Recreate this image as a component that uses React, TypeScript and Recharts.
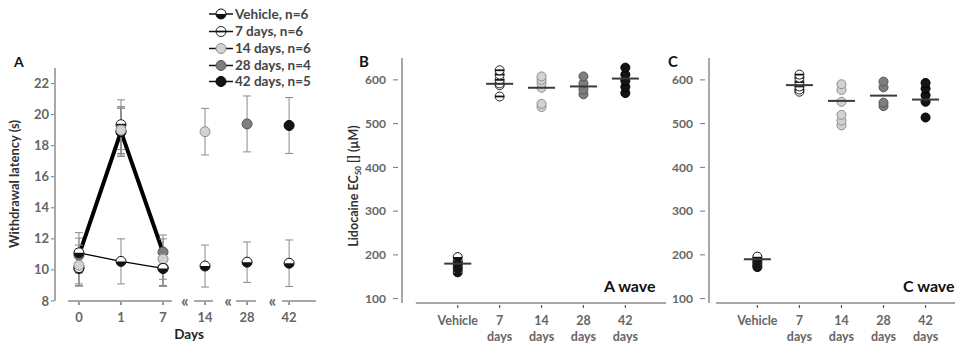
import React from 'react';
import {
  ComposedChart,
  ScatterChart,
  Scatter,
  Line,
  XAxis,
  YAxis,
  ErrorBar,
  ReferenceLine,
  ReferenceDot,
} from 'recharts';

const FONT = 'Lato, "Open Sans", "DejaVu Sans", sans-serif';

// ---------- Panel A: withdrawal latency ----------
const dayLabels = ['0', '1', '7', '14', '28', '42'];
const vehicleMean = [11.1, 10.55, 10.1, 10.25, 10.5, 10.43];
const vehicleErr = [1.3, 1.45, 1.15, 1.35, 1.3, 1.5];
const d7Mean = [10.15, 19.35, 10.15, null, null, null];
const d7Err = [1.2, 1.6, 1.2, null, null, null];
const d14Mean = [10.3, 19.0, 10.7, 18.9, null, null];
const d14Err = [1.3, 1.5, 1.3, 1.5, null, null];
const d28Mean = [10.95, 18.9, 11.15, null, 19.4, null];
const d28Err = [1.1, 1.6, 1.1, null, 1.8, null];
const d42Mean = [10.1, 18.9, 10.1, null, null, 19.3];
const d42Err = [1.0, 1.5, 1.1, null, null, 1.8];
const yTicksA = [8, 10, 12, 14, 16, 18, 20, 22];

// ---------- Panels B / C: lidocaine EC50 ----------
const catLabels = ['Vehicle', '7 days', '14 days', '28 days', '42 days'];
const bVehicle = [195, 186, 180, 174, 168, 160];
const b7 = [622, 612, 600, 592, 588, 562];
const b14 = [608, 600, 592, 582, 545, 538];
const b28 = [608, 592, 578, 567];
const b42 = [628, 612, 598, 584, 570];
const bMeans = [180, 591, 582, 585, 603];

const cVehicle = [196, 191, 186, 181, 176, 172];
const c7 = [612, 605, 595, 585, 578, 573];
const c14 = [590, 577, 550, 520, 507, 496];
const c28 = [596, 583, 548, 540];
const c42 = [593, 580, 565, 550, 514];
const cMeans = [190, 588, 552, 564, 555];
const yTicksBC = [100, 200, 300, 400, 500, 600];

const legendItems = [
  { kind: 'veh', label: 'Vehicle, n=6' },
  { kind: 'd7', label: '7 days, n=6' },
  { kind: 'd14', label: '14 days, n=6' },
  { kind: 'd28', label: '28 days, n=4' },
  { kind: 'd42', label: '42 days, n=5' },
];

type Kind = 'veh' | 'd7' | 'd14' | 'd28' | 'd42';

function Marker({ kind, cx, cy, r }: { kind: Kind; cx: number; cy: number; r: number }) {
  if (kind === 'veh') {
    return (
      <g>
        <circle cx={cx} cy={cy} r={r} fill="#fff" stroke="#111" strokeWidth={1} />
        <path d={`M${cx - r},${cy} A${r},${r} 0 0 0 ${cx + r},${cy} Z`} fill="#111" />
      </g>
    );
  }
  if (kind === 'd7') {
    return (
      <g>
        <circle cx={cx} cy={cy} r={r} fill="#fff" stroke="#222" strokeWidth={1} />
        <line x1={cx - r} x2={cx + r} y1={cy} y2={cy} stroke="#111" strokeWidth={1.8} />
      </g>
    );
  }
  const fills: Record<string, [string, string]> = {
    d14: ['#d2d2d2', '#8c8c8c'],
    d28: ['#7e7e7e', '#555'],
    d42: ['#141414', '#000'],
  };
  const [f, s] = fills[kind];
  return <circle cx={cx} cy={cy} r={r} fill={f} stroke={s} strokeWidth={1} />;
}

const dotFor = (kind: Kind, r: number) => (p: any) => {
  const k = `dot-${kind}-${p.index}`;
  if (p.cy == null || p.value == null || Number.isNaN(p.cy)) return <g key={k} />;
  return <Marker key={k} kind={kind} cx={p.cx} cy={p.cy} r={r} />;
};

const groupsA: { key: string; kind: Kind; mean: (number | null)[]; err: (number | null)[]; stroke: string; width: number }[] = [
  { key: 'd28', kind: 'd28', mean: d28Mean, err: d28Err, stroke: '#000', width: 4 },
  { key: 'd42', kind: 'd42', mean: d42Mean, err: d42Err, stroke: 'none', width: 0 },
  { key: 'd7', kind: 'd7', mean: d7Mean, err: d7Err, stroke: 'none', width: 0 },
  { key: 'd14', kind: 'd14', mean: d14Mean, err: d14Err, stroke: 'none', width: 0 },
  { key: 'veh', kind: 'veh', mean: vehicleMean, err: vehicleErr, stroke: '#000', width: 1.3 },
];

// time course before the axis break is connected; later days are single points
const tableA = dayLabels.map((d, i) => {
  const row: any = { x: i, day: d };
  groupsA.forEach((g) => {
    const k = i < 3 ? g.key : g.key + 'Late';
    row[k] = g.mean[i];
    row[k + 'Err'] = g.err[i];
  });
  return row;
});

// lower points drawn first so the upper markers sit on top (as in the figure)
const toPts = (vals: number[], idx: number) =>
  [...vals].sort((a, b) => a - b).map((v) => ({ x: idx, y: v }));
const meanPts = (vals: number[]) => vals.map((v, i) => ({ x: i, y: v }));

const tickText = { fill: '#666', fontSize: 13, fontWeight: 700, fontFamily: FONT } as const;

const YTickA = ({ x, y, payload }: any) => (
  <g>
    <line x1={x - 4} x2={x - 1} y1={y} y2={y} stroke="#777" strokeWidth={1} />
    <text x={x - 6} y={y} dy="0.35em" textAnchor="end" {...tickText}>
      {payload.value}
    </text>
  </g>
);

const XTickA = ({ x, y, payload }: any) => (
  <g>
    <line x1={x} x2={x} y1={y + 1} y2={y + 4} stroke="#555" strokeWidth={1.2} />
    <text x={x} y={y + 21} textAnchor="middle" {...tickText}>
      {dayLabels[payload.value]}
    </text>
  </g>
);

const YTickBC = ({ x, y, payload }: any) => (
  <g>
    <line x1={x - 9} x2={x - 4} y1={y} y2={y} stroke="#777" strokeWidth={1} />
    <text x={x - 16} y={y} dy="0.35em" textAnchor="end" {...tickText} fontSize={12}>
      {payload.value}
    </text>
  </g>
);

const XTickBC = ({ x, y, payload }: any) => {
  const parts = catLabels[payload.value].split(' ');
  return (
    <g>
      <line x1={x} x2={x} y1={y + 2} y2={y + 5} stroke="#555" strokeWidth={1.2} />
      <text x={x} y={y + 22} textAnchor="middle" {...tickText} fontSize={12.5}>
        {parts[0]}
      </text>
      {parts[1] && (
        <text x={x} y={y + 38} textAnchor="middle" {...tickText} fontSize={12.5}>
          {parts[1]}
        </text>
      )}
    </g>
  );
};

const MeanLine = (color: string) => (p: any) => (
  <line x1={p.cx - 13.5} x2={p.cx + 13.5} y1={p.cy} y2={p.cy} stroke={color} strokeWidth={2} />
);

function Breaks({ cx, cy }: any) {
  return (
    <text x={cx} y={cy} dy="0.35em" textAnchor="middle" fill="#666" fontSize={17} fontWeight={700} fontFamily={FONT}>
      «
    </text>
  );
}

function PanelA() {
  return (
    <ComposedChart
      width={330}
      height={350}
      data={tableA}
      margin={{ top: 68, right: 14, bottom: 19, left: 0 }}
    >
      <XAxis
        dataKey="x"
        type="number"
        domain={[-0.57, 5.64]}
        allowDataOverflow
        ticks={[0, 1, 2, 3, 4, 5]}
        interval={0}
        axisLine={false}
        tickLine={false}
        tickSize={0}
        tickMargin={0}
        tick={<XTickA />}
        height={30}
      />
      <YAxis
        type="number"
        domain={[8, 23]}
        allowDataOverflow
        ticks={yTicksA}
        interval={0}
        width={55}
        axisLine={{ stroke: '#a8a8a8', strokeWidth: 2 }}
        tickLine={false}
        tickSize={0}
        tickMargin={0}
        tick={<YTickA />}
      />
      <ReferenceLine segment={[{ x: -0.26, y: 8 }, { x: 2.21, y: 8 }]} stroke="#8a8a8a" strokeWidth={1.5} ifOverflow="visible" />
      <ReferenceLine segment={[{ x: 2.74, y: 8 }, { x: 3.19, y: 8 }]} stroke="#8a8a8a" strokeWidth={1.5} ifOverflow="visible" />
      <ReferenceLine segment={[{ x: 3.74, y: 8 }, { x: 4.21, y: 8 }]} stroke="#8a8a8a" strokeWidth={1.5} ifOverflow="visible" />
      <ReferenceLine segment={[{ x: 4.83, y: 8 }, { x: 5.64, y: 8 }]} stroke="#8a8a8a" strokeWidth={1.5} ifOverflow="visible" />
      <ReferenceDot x={2.52} y={8} r={0} ifOverflow="visible" shape={<Breaks />} />
      <ReferenceDot x={3.55} y={8} r={0} ifOverflow="visible" shape={<Breaks />} />
      <ReferenceDot x={4.6} y={8} r={0} ifOverflow="visible" shape={<Breaks />} />
      {groupsA.map((g) => (
        <Line
          key={g.key}
          dataKey={g.key}
          type="linear"
          stroke={g.stroke}
          strokeWidth={g.width}
          dot={dotFor(g.kind, 5)}
          activeDot={false}
          isAnimationActive={false}
          connectNulls={false}
        >
          <ErrorBar dataKey={g.key + 'Err'} width={4} stroke="#8a8a8a" strokeWidth={1} />
        </Line>
      ))}
      {groupsA.map((g) => (
        <Line
          key={g.key + 'Late'}
          dataKey={g.key + 'Late'}
          type="linear"
          stroke="none"
          dot={dotFor(g.kind, 5)}
          activeDot={false}
          isAnimationActive={false}
        >
          <ErrorBar dataKey={g.key + 'LateErr'} width={4} stroke="#8a8a8a" strokeWidth={1} />
        </Line>
      ))}
    </ComposedChart>
  );
}

function DotPanel({
  width,
  yAxisWidth,
  domainX,
  axisStart,
  axisEnd,
  veh,
  g7,
  g14,
  g28,
  g42,
  means,
}: any) {
  return (
    <ScatterChart width={width} height={350} margin={{ top: 58, right: 3, bottom: 7, left: 0 }}>
      <XAxis
        dataKey="x"
        type="number"
        domain={domainX}
        allowDataOverflow
        ticks={[0, 1, 2, 3, 4]}
        interval={0}
        axisLine={false}
        tickLine={false}
        tickSize={0}
        tickMargin={0}
        tick={<XTickBC />}
        height={40}
      />
      <YAxis
        dataKey="y"
        type="number"
        domain={[90, 650]}
        allowDataOverflow
        ticks={yTicksBC}
        interval={0}
        width={yAxisWidth}
        axisLine={{ stroke: '#a8a8a8', strokeWidth: 2 }}
        tickLine={false}
        tickSize={0}
        tickMargin={0}
        tick={<YTickBC />}
      />
      <ReferenceLine
        segment={[{ x: axisStart, y: 90 }, { x: axisEnd, y: 90 }]}
        stroke="#8a8a8a"
        strokeWidth={1.5}
        ifOverflow="visible"
      />
      <Scatter data={toPts(veh, 0)} shape={(p: any) => <Marker kind="veh" cx={p.cx} cy={p.cy} r={4.5} />} isAnimationActive={false} />
      <Scatter data={toPts(g7, 1)} shape={(p: any) => <Marker kind="d7" cx={p.cx} cy={p.cy} r={4.5} />} isAnimationActive={false} />
      <Scatter data={toPts(g14, 2)} shape={(p: any) => <Marker kind="d14" cx={p.cx} cy={p.cy} r={4.5} />} isAnimationActive={false} />
      <Scatter data={toPts(g28, 3)} shape={(p: any) => <Marker kind="d28" cx={p.cx} cy={p.cy} r={4.5} />} isAnimationActive={false} />
      <Scatter data={toPts(g42, 4)} shape={(p: any) => <Marker kind="d42" cx={p.cx} cy={p.cy} r={4.5} />} isAnimationActive={false} />
      <Scatter data={meanPts(means)} shape={MeanLine('#3a3a3a')} isAnimationActive={false} />
    </ScatterChart>
  );
}

function Overlay() {
  const rows = [14, 31.5, 48.5, 65.5, 81.5];
  return (
    <svg
      width={958}
      height={350}
      style={{ position: 'absolute', left: 0, top: 0, pointerEvents: 'none' }}
      fontFamily={FONT}
    >
      {legendItems.map((it, i) => (
        <g key={it.label}>
          <line x1={209} x2={233} y1={rows[i]} y2={rows[i]} stroke="#111" strokeWidth={1.5} />
          <Marker kind={it.kind as Kind} cx={221} cy={rows[i]} r={5} />
          <text x={235} y={rows[i]} dy="0.36em" fill="#444" fontSize={13.5} fontWeight={700}>
            {it.label}
          </text>
        </g>
      ))}
      <text x={14} y={67} fontSize={14} fontWeight={700} fill="#111">A</text>
      <text x={359} y={67} fontSize={15} fontWeight={700} fill="#111">B</text>
      <text x={668} y={67} fontSize={15} fontWeight={700} fill="#111">C</text>
      <text
        transform="translate(19,184) rotate(-90)"
        textAnchor="middle"
        fontSize={13}
        fontWeight={700}
        fill="#333"
      >
        Withdrawal latency (s)
      </text>
      <text x={189} y={339} textAnchor="middle" fontSize={13.5} fontWeight={700} fill="#222">
        Days
      </text>
      <text
        transform="translate(358,186) rotate(-90)"
        textAnchor="middle"
        fontSize={12.5}
        fontWeight={700}
        fill="#333"
      >
        Lidocaine EC
        <tspan fontSize={8} dy={3}>50</tspan>
        <tspan dy={-3}> [] (µM)</tspan>
      </text>
      <text x={604} y={292} fontSize={16} fontWeight={700} fill="#111">A wave</text>
      <text x={903} y={292} fontSize={16} fontWeight={700} fill="#111">C wave</text>
    </svg>
  );
}

export default function App() {
  return (
    <div style={{ position: 'absolute', left: 0, top: 0, width: 958, height: 350, background: '#fff', overflow: 'hidden' }}>
      <div style={{ position: 'absolute', left: 0, top: 0 }}>
        <PanelA />
      </div>
      <div style={{ position: 'absolute', left: 330, top: 0 }}>
        <DotPanel
          width={339}
          yAxisWidth={72}
          domainX={[-1.33, 4.97]}
          axisStart={-1.0}
          axisEnd={4.97}
          veh={bVehicle}
          g7={b7}
          g14={b14}
          g28={b28}
          g42={b42}
          means={bMeans}
        />
      </div>
      <div style={{ position: 'absolute', left: 640, top: 0 }}>
        <DotPanel
          width={318}
          yAxisWidth={69}
          domainX={[-1.15, 4.7]}
          axisStart={-0.98}
          axisEnd={4.7}
          veh={cVehicle}
          g7={c7}
          g14={c14}
          g28={c28}
          g42={c42}
          means={cMeans}
        />
      </div>
      <Overlay />
    </div>
  );
}
